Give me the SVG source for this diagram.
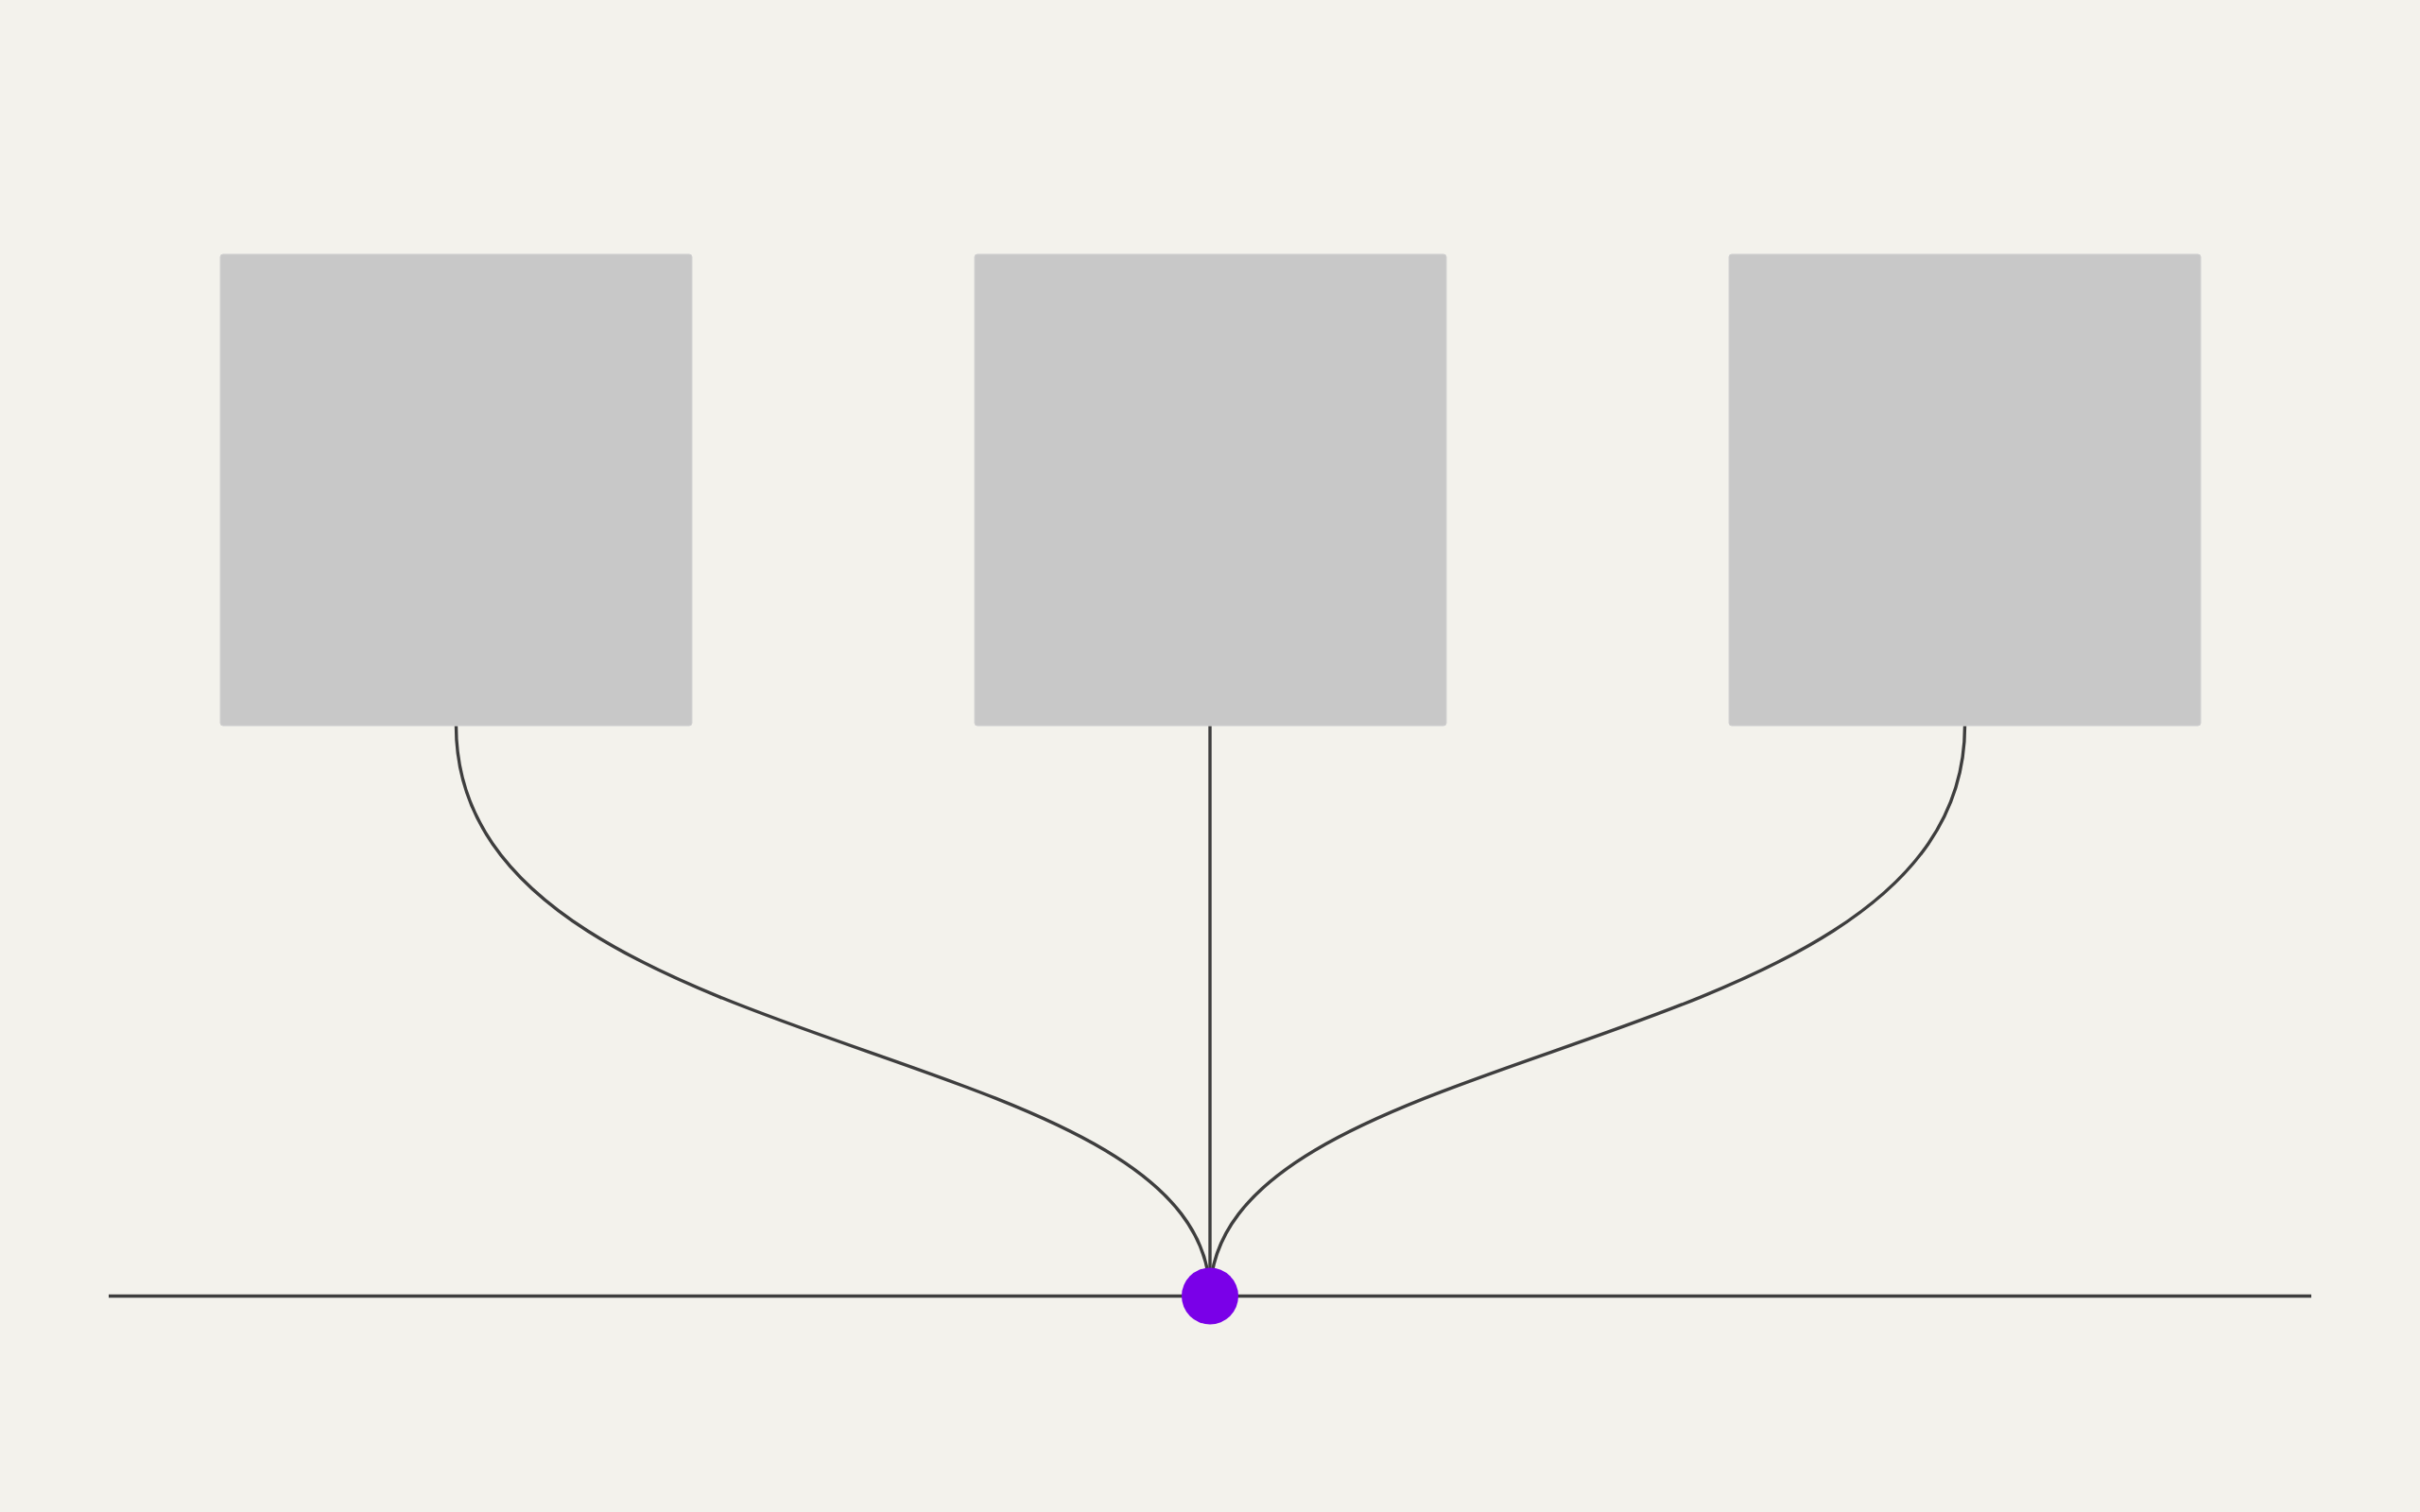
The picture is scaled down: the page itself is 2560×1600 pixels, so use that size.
<svg xmlns="http://www.w3.org/2000/svg" width="2560" height="1600" viewBox="0 0 2560 1600">
<style>
.box{fill:#c8c8c8;stroke:#d2d2d2;stroke-width:1}
.wire{fill:none;stroke:#3e3e3e;stroke-width:3.4}
.dot{fill:#7a00e8}
</style>
<rect width="2560" height="1600" fill="#f3f2ec"/>
<g id="connectors">
<line class="wire" x1="115" y1="1371.5" x2="2445" y2="1371.5"/>
<path class="wire" d="M482.5 768 C482.5 1130 1280 1090 1280 1371.5"/>
<path class="wire" d="M2078.5 768 C2078.5 1130 1280 1090 1280 1371.5"/>
<line class="wire" x1="1280" y1="768" x2="1280" y2="1371.5"/>
</g>
<g id="node-left"><rect class="box" x="233" y="269" width="499" height="499" rx="3"/></g>
<g id="node-center"><rect class="box" x="1031" y="269" width="499" height="499" rx="3"/></g>
<g id="node-right"><rect class="box" x="1829" y="269" width="499" height="499" rx="3"/></g>
<g id="junction"><circle class="dot" cx="1280" cy="1371.5" r="30"/></g>
</svg>
